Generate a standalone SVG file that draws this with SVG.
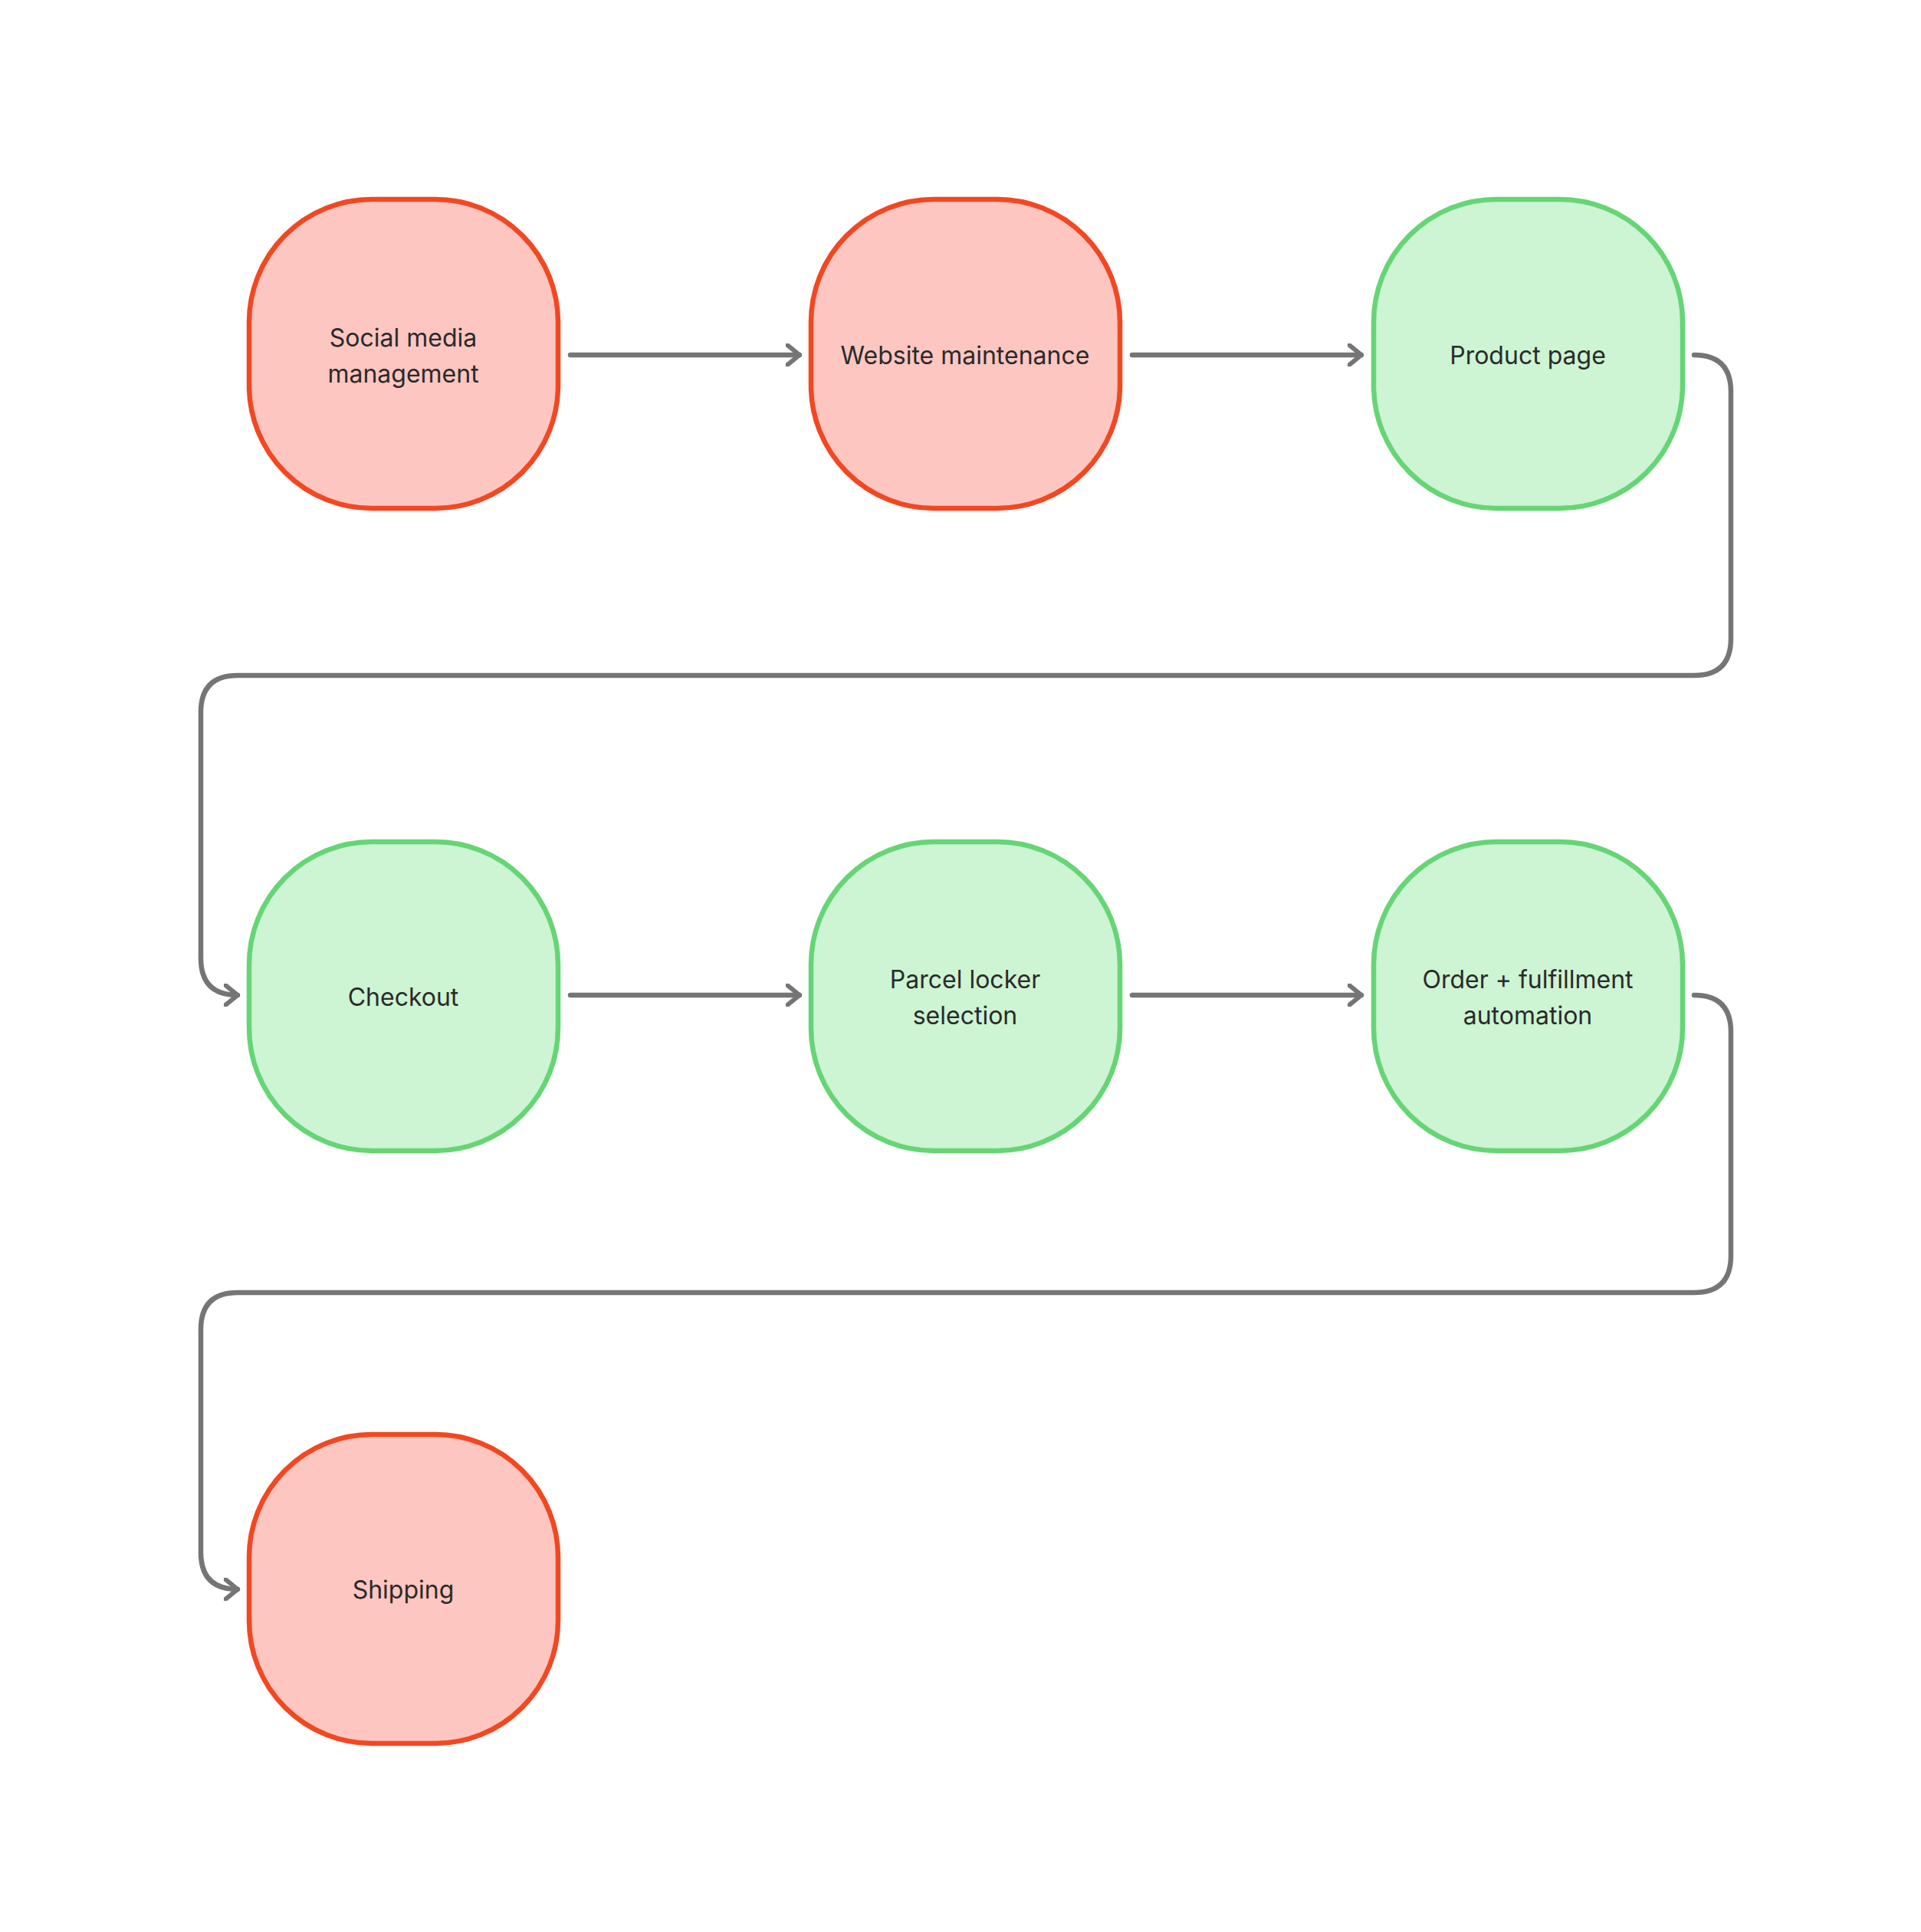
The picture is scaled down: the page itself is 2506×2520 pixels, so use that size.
<svg xmlns="http://www.w3.org/2000/svg" width="2506" height="2520" viewBox="0 0 2506 2520">
<defs>
<style>
.r{fill:#fdc6c1;stroke:#f24822;stroke-width:6.5}
.g{fill:#cdf4d3;stroke:#66d575;stroke-width:6.5}
text{font-family:Inter,"Liberation Sans",sans-serif;font-size:32px;fill:#2a2a2a;text-anchor:middle;dominant-baseline:central}
.c{fill:none;stroke:#757575;stroke-width:6.5;stroke-linecap:round;stroke-linejoin:round}
</style>
<marker id="a" viewBox="0 0 20 30" refX="18" refY="15" markerWidth="20" markerHeight="30" markerUnits="userSpaceOnUse" orient="auto">
<path d="M2,2 L18,15 L2,28" fill="none" stroke="#757575" stroke-width="6" stroke-linecap="round" stroke-linejoin="round"/>
</marker>
</defs>
<rect width="2506" height="2520" fill="#fff"/>
<g id="connectors">
<path class="c" marker-end="url(#a)" d="M744,463 H1043"/>
<path class="c" marker-end="url(#a)" d="M1477,463 H1776"/>
<path class="c" marker-end="url(#a)" d="M2210,463 Q2258,463 2258,511 V833 Q2258,881 2210,881 H310 Q262,881 262,929 V1250 Q262,1298 310,1298"/>
<path class="c" marker-end="url(#a)" d="M744,1298 H1043"/>
<path class="c" marker-end="url(#a)" d="M1477,1298 H1776"/>
<path class="c" marker-end="url(#a)" d="M2210,1298 Q2258,1298 2258,1346 V1638 Q2258,1686 2210,1686 H310 Q262,1686 262,1734 V2025 Q262,2073 310,2073"/>
</g>
<g id="n1"><rect class="r" x="325" y="260" width="403" height="403" rx="160"/><text x="526" y="440">Social media</text><text x="526" y="487">management</text></g>
<g id="n2"><rect class="r" x="1058" y="260" width="403" height="403" rx="160"/><text x="1259" y="463">Website maintenance</text></g>
<g id="n3"><rect class="g" x="1792" y="260" width="403" height="403" rx="160"/><text x="1993" y="463">Product page</text></g>
<g id="n4"><rect class="g" x="325" y="1098" width="403" height="403" rx="160"/><text x="526" y="1300">Checkout</text></g>
<g id="n5"><rect class="g" x="1058" y="1098" width="403" height="403" rx="160"/><text x="1259" y="1277">Parcel locker</text><text x="1259" y="1324">selection</text></g>
<g id="n6"><rect class="g" x="1792" y="1098" width="403" height="403" rx="160"/><text x="1993" y="1277">Order + fulfillment</text><text x="1993" y="1324">automation</text></g>
<g id="n7"><rect class="r" x="325" y="1871" width="403" height="403" rx="160"/><text x="526" y="2073">Shipping</text></g>
</svg>
